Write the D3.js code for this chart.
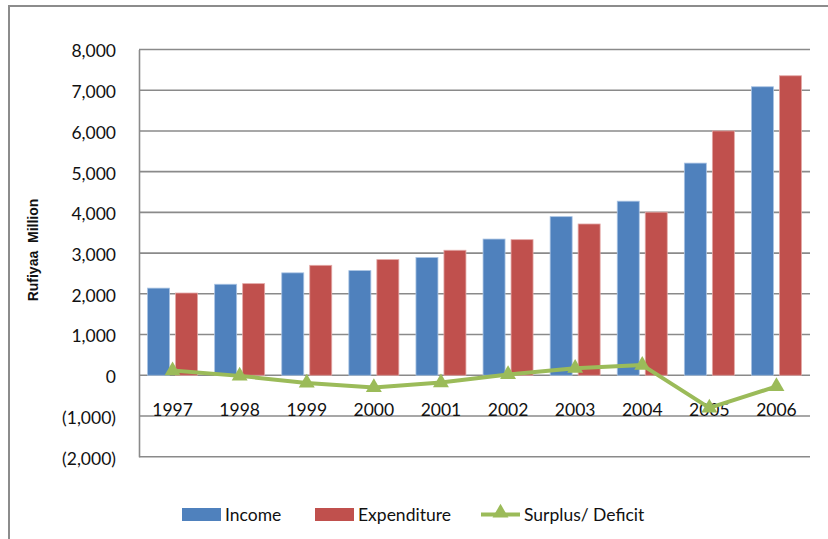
<!DOCTYPE html>
<html>
<head>
<meta charset="utf-8">
<script src="https://cdn.jsdelivr.net/npm/d3@7"></script>
<style>
  html, body { margin: 0; padding: 0; background: #fff; }
  svg { display: block; }
  text { font-family: Lato, "Open Sans", sans-serif; fill: #111; }
</style>
</head>
<body>
<svg id="chart" width="828" height="539"></svg>
<script>
// Government income and expenditure, Rufiyaa million
const years = ["1997", "1998", "1999", "2000", "2001", "2002", "2003", "2004", "2005", "2006"];
const income = [2140, 2235, 2515, 2570, 2890, 3345, 3895, 4275, 5210, 7085];
const expenditure = [2020, 2250, 2700, 2840, 3070, 3330, 3715, 4005, 6000, 7355];
const surplus = [115, -15, -190, -300, -180, 20, 175, 250, -800, -275];
const yTicks = [-2000, -1000, 0, 1000, 2000, 3000, 4000, 5000, 6000, 7000, 8000];
const seriesNames = ["Income", "Expenditure", "Surplus/ Deficit"];

const colors = { income: "#4f81bd", expenditure: "#c0504d", surplus: "#9bbb59" };
const gridColor = "#8a8a8a";

const svg = d3.select("#chart");
const plot = { left: 139, right: 810, top: 49.5, bottom: 456.7 };

// outer chart frame
svg.append("rect")
  .attr("x", 9).attr("y", 6).attr("width", 830).attr("height", 560)
  .attr("fill", "none").attr("stroke", "#8c8c8c").attr("stroke-width", 2);

const x = d3.scaleBand().domain(years).range([plot.left, plot.right]).paddingInner(0).paddingOuter(0);
const y = d3.scaleLinear().domain([-2000, 8000]).range([plot.bottom, plot.top]);

// bar slots within each category band
const barW = 22, barGap = 6;
const edge = (x.bandwidth() - 2 * barW - barGap) / 2;
const sub = d3.scaleOrdinal().domain(["income", "expenditure"]).range([edge, edge + barW + barGap]);

// horizontal gridlines
svg.append("g").selectAll("line").data(yTicks).join("line")
  .attr("x1", plot.left).attr("x2", plot.right)
  .attr("y1", d => y(d)).attr("y2", d => y(d))
  .attr("stroke", gridColor).attr("stroke-width", 1.6);

// y axis with formatted ticks
const fmt = d3.format(",");
const yAxis = d3.axisLeft(y).tickValues(yTicks).tickSize(0).tickPadding(23)
  .tickFormat(d => d < 0 ? "(" + fmt(-d) + ")" : fmt(d));
const gy = svg.append("g").attr("transform", `translate(${plot.left},0)`).call(yAxis);
gy.select(".domain").attr("stroke", gridColor).attr("stroke-width", 1.6);
gy.selectAll("text").attr("font-size", 17.5).attr("dy", "0.42em")
  .style("font-family", "Lato, sans-serif").attr("fill", "#111");

// bars
const barData = [];
years.forEach((yr, i) => {
  barData.push({ yr, key: "income", v: income[i] });
  barData.push({ yr, key: "expenditure", v: expenditure[i] });
});
svg.append("g").selectAll("rect").data(barData).join("rect")
  .attr("x", d => x(d.yr) + sub(d.key))
  .attr("width", barW)
  .attr("y", d => y(Math.max(0, d.v)))
  .attr("height", d => Math.abs(y(d.v) - y(0)))
  .attr("fill", d => colors[d.key])
  .attr("stroke", d => d.key === "income" ? "#a9c3e3" : "#e3a8a6")
  .attr("stroke-width", 0.8);

// category labels sit below the zero line
svg.append("g").selectAll("text").data(years).join("text")
  .attr("x", d => x(d) + x.bandwidth() / 2)
  .attr("y", 416)
  .attr("text-anchor", "middle")
  .attr("font-size", 17.5)
  .text(d => d);

// surplus / deficit line with triangle markers
const cx = i => x(years[i]) + x.bandwidth() / 2;
const line = d3.line().x((d, i) => cx(i)).y(d => y(d));
svg.append("path").datum(surplus)
  .attr("d", line).attr("fill", "none")
  .attr("stroke", colors.surplus).attr("stroke-width", 4).attr("stroke-linejoin", "round");
const tri = d3.symbol().type(d3.symbolTriangle).size(110);
svg.append("g").selectAll("path").data(surplus).join("path")
  .attr("transform", (d, i) => `translate(${cx(i)},${y(d)})`)
  .attr("d", tri).attr("fill", colors.surplus);

// y axis title
svg.append("text")
  .attr("transform", "translate(38,250) rotate(-90)")
  .attr("text-anchor", "middle")
  .attr("font-size", 14).attr("font-weight", "bold")
  .style("font-family", "'Liberation Sans', Arial, sans-serif")
  .attr("xml:space", "preserve")
  .text("Rufiyaa  Million");

// legend
const lg = svg.append("g");
const legendItems = [
  { name: seriesNames[0], key: "income", x: 182, tx: 225 },
  { name: seriesNames[1], key: "expenditure", x: 315, tx: 358 },
  { name: seriesNames[2], key: "surplus", x: 481, tx: 524 }
];
legendItems.forEach(it => {
  if (it.key === "surplus") {
    lg.append("line").attr("x1", it.x).attr("x2", it.x + 39).attr("y1", 514.5).attr("y2", 514.5)
      .attr("stroke", colors.surplus).attr("stroke-width", 4);
    lg.append("path").attr("transform", `translate(${it.x + 19.5},513)`)
      .attr("d", tri).attr("fill", colors.surplus);
  } else {
    lg.append("rect").attr("x", it.x).attr("y", 508).attr("width", 39).attr("height", 13)
      .attr("fill", colors[it.key]);
  }
  lg.append("text").attr("x", it.tx).attr("y", 521).attr("font-size", 17.5).text(it.name);
});
</script>
</body>
</html>
